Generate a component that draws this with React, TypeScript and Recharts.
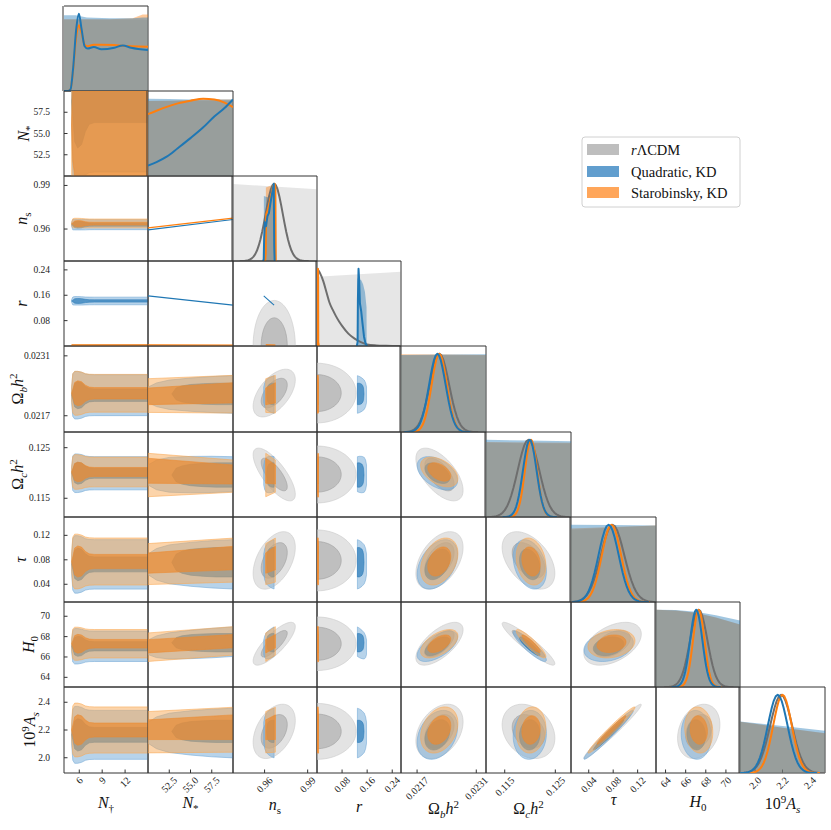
import React from 'react';
import { ComposedChart, Scatter, XAxis, YAxis } from 'recharts';

const SERIF = "'Liberation Serif', 'DejaVu Serif', serif";

// panel grid in page pixels
const colEdges = [64, 148, 233, 317, 401, 486, 571, 656, 740, 825];
const rowEdges = [6, 91, 176, 261, 346, 432, 517, 602, 687, 773];

const paramKeys = ['Ndag', 'Nstar', 'ns', 'r', 'ombh2', 'omch2', 'tau', 'H0', 'As'];
const paramMin = [4, 50, 0.938, 0, 0.02132, 0.1113, 0.011, 63.05, 1.89];
const paramMax = [15, 60, 0.9965, 0.268, 0.02333, 0.1281, 0.15, 71.4, 2.51];
const tickVals = [
  [6, 9, 12], [52.5, 55, 57.5], [0.96, 0.99], [0.08, 0.16, 0.24], [0.0217, 0.0231],
  [0.115, 0.125], [0.04, 0.08, 0.12], [64, 66, 68, 70], [2.0, 2.2, 2.4],
];
const tickText = [
  ['6', '9', '12'], ['52.5', '55.0', '57.5'], ['0.96', '0.99'], ['0.08', '0.16', '0.24'], ['0.0217', '0.0231'],
  ['0.115', '0.125'], ['0.04', '0.08', '0.12'], ['64', '66', '68', '70'], ['2.0', '2.2', '2.4'],
];

// means / sigmas
const greyMean = [null, null, 0.9667, 0, 0.02223, 0.1197, 0.079, 67.3, 2.19];
const greySigma = [null, null, 0.006, 0.051, 0.000228, 0.00213, 0.0192, 0.86, 0.08];
// extra spread of the r-panels (partner index); for n_s it stretches r itself
const greyRWiden = [1, 1, 1.15, 1, 1.25, 1.08, 1.06, 1.25, 1.03];
const quadMean = [null, 58.8, 0.963, 0.142, 0.02218, 0.11995, 0.0725, 67.05, 2.165];
const quadSigma = [null, 3.4, 0.0014, 0.0049, 0.000195, 0.00134, 0.0165, 0.61, 0.072];
const staroMean = [null, 56, 0.9637, 0.0031, 0.022225, 0.1202, 0.0772, 67.3, 2.2];
const staroSigma = [null, 8.5, 0.0013, 0.0002, 0.00018, 0.0012, 0.0157, 0.57, 0.068];

const greyCorr = [
  ['ns', 'ombh2', 0.55], ['ns', 'omch2', -0.75], ['ns', 'tau', 0.45], ['ns', 'H0', 0.8], ['ns', 'As', 0.4],
  ['ombh2', 'omch2', -0.6], ['ombh2', 'tau', 0.45], ['ombh2', 'H0', 0.65], ['ombh2', 'As', 0.35],
  ['omch2', 'tau', -0.45], ['omch2', 'H0', -0.93], ['omch2', 'As', -0.25],
  ['tau', 'H0', 0.45], ['tau', 'As', 0.98], ['H0', 'As', 0.25],
];
const quadCorr = [
  ['ombh2', 'omch2', -0.45], ['ombh2', 'tau', 0.4], ['ombh2', 'H0', 0.6], ['ombh2', 'As', 0.3],
  ['omch2', 'tau', -0.3], ['omch2', 'H0', -0.9], ['omch2', 'As', 0.05],
  ['tau', 'H0', 0.25], ['tau', 'As', 0.98], ['H0', 'As', -0.05],
];
const staroCorr = [
  ['ombh2', 'omch2', -0.45], ['ombh2', 'tau', 0.35], ['ombh2', 'H0', 0.55], ['ombh2', 'As', 0.3],
  ['omch2', 'tau', -0.2], ['omch2', 'H0', -0.9], ['omch2', 'As', 0.1],
  ['tau', 'H0', 0.2], ['tau', 'As', 0.98], ['H0', 'As', -0.1],
];

// n_s and r follow N_* along a line for the two KD models (values at N_* = 50, 60)
const nstarEnds = [50, 60];
const quadNsEnds = [0.9594, 0.9666];
const staroNsEnds = [0.9608, 0.9675];
const quadREnds = [0.158, 0.129];
const staroREnds = [0.0035, 0.0028];

// contour bands in the N_* panels: [value at N_*=50, value at N_*=60]
const staroOuterMid = [null, null, null, null, [0.022172, 0.022203], [0.1196, 0.11938], [0.073, 0.0795], [66.96, 67.58], [2.184, 2.202]];
const staroOuterHalf = [null, null, null, null, [0.000394, 0.000441], [0.00429, 0.00319], [0.0335, 0.036], [1.4, 1.4], [0.149, 0.162]];
const staroInnerMid = [null, null, null, null, [0.022153, 0.022236], [0.12044, 0.1197], [0.0746, 0.0828], [67.05, 67.55], [2.202, 2.22]];
const staroInnerHalf = [null, null, null, null, [0.000194, 0.000236], [0.00247, 0.00188], [0.0165, 0.0192], [0.65, 0.65], [0.071, 0.089]];
const quadOuterMid = [null, null, null, null, [0.022189, 0.022197], [0.1196, 0.11976], [0.0726, 0.0726], [66.95, 67.5], [2.18, 2.178]];
const quadOuterHalf = [null, null, null, null, [0.000361, 0.00044], [0.00395, 0.00346], [0.0337, 0.0403], [1.42, 1.45], [0.15, 0.179]];
const quadInnerMid = [null, null, null, null, [0.02221, 0.02221], [0.1196, 0.1196], [0.076, 0.076], [67.4, 67.4], [2.19, 2.19]];
const quadInnerHalf = [null, null, null, null, [0.00025, 0.00025], [0.0024, 0.0024], [0.024, 0.024], [0.9, 0.9], [0.08, 0.08]];
const quadOuterNstar = [50, 51, 52.5, 55, 57.5, 60];
const quadOuterTaper = [0.5, 0.75, 0.9, 0.97, 1, 1];
const quadInnerNstar = [52.8, 53.3, 54, 55, 56.5, 58, 60];
const quadInnerTaper = [0, 0.55, 0.75, 0.88, 0.96, 1, 1];
const staroBandNstar = [50, 60];
const staroBandTaper = [1, 1];

// N_dagger panels: contour half-widths in units of the other parameter's sigma
const ndagGrid = [5.0, 5.15, 5.4, 5.8, 6.3, 6.8, 7.3, 8.0, 16];
const ndagOuterMult = [0.9, 2.55, 2.85, 2.85, 2.75, 2.55, 2.47, 2.45, 2.45];
const ndagInnerMult = [0, 0.5, 1.4, 1.62, 1.5, 1.05, 0.8, 0.74, 0.74];

// diagonal: shaded areas
const diagFillX = [
  [4, 5.5, 7, 10, 13, 14.3, 15], [50, 52.5, 55, 57.5, 60], [0.938, 0.9965], [0, 0.268],
  [0.02132, 0.02232, 0.02333], [0.1113, 0.1197, 0.1281], [0.011, 0.08, 0.15], [63.05, 65, 67, 69, 71.4], [1.89, 2.2, 2.51],
];
const greyFillH = [
  [0.925, 0.925, 0.925, 0.925, 0.925, 0.925, 0.92], [0.975, 0.975, 0.975, 0.975, 0.975], [0.996, 0.927], [0.897, 0.962],
  [0.983, 0.983, 0.983], [0.96, 0.955, 0.95], [0.936, 0.965, 0.99], [1.0, 0.99, 0.96, 0.9, 0.81], [0.657, 0.58, 0.507],
];
const nsQuadFillX = [0.9594, 0.9595, 0.963, 0.9665, 0.9666];
const nsQuadFillH = [0, 0.84, 0.82, 0.86, 0];
const nsStaroFillX = [0.9608, 0.9609, 0.9675, 0.9676];
const nsStaroFillH = [0, 0.95, 1.0, 0];
const rQuadFillX = [0.1285, 0.129, 0.134, 0.14, 0.147, 0.153, 0.158, 0.1585];
const rQuadFillH = [0, 0.88, 0.84, 0.86, 0.8, 0.7, 0.5, 0];
const rStaroFillX = [0.0026, 0.0028, 0.0035, 0.0037];
const rStaroFillH = [0, 1.0, 1.0, 0];
const quadFillH = [
  [0.98, 0.98, 0.95, 0.94, 0.94, 0.95, 0.95], [1.0, 0.995, 0.99, 0.99, 0.99], nsQuadFillH, rQuadFillH,
  [0.985, 0.99, 0.996], [1.0, 0.99, 0.98], [1.0, 0.995, 0.99], [1.0, 0.995, 0.975, 0.93, 0.86], [0.66, 0.6, 0.54],
];
const staroFillH = [
  [0.93, 0.93, 0.93, 0.93, 0.94, 0.99, 0.99], [0.97, 0.975, 0.985, 0.99, 0.99], nsStaroFillH, rStaroFillH,
  [0.996, 0.99, 0.985], [0.97, 0.965, 0.96], [0.95, 0.97, 0.99], [1.0, 0.99, 0.96, 0.9, 0.81], [0.657, 0.58, 0.507],
];

// diagonal: marginal curves that are not simple Gaussians
const ndagLineX = [4, 4.5, 4.85, 5.2, 5.6, 5.95, 6.3, 6.7, 7.1, 7.9, 8.9, 10.6, 11.7, 12.8, 15];
const quadNdagLine = [0, 0, 0.02, 0.3, 0.8, 1.0, 0.8, 0.58, 0.55, 0.57, 0.54, 0.56, 0.59, 0.56, 0.53];
const staroNdagLine = [0, 0, 0.02, 0.28, 0.7, 0.85, 0.75, 0.6, 0.58, 0.6, 0.6, 0.595, 0.585, 0.58, 0.574];
const nstarLineX = [50, 51, 52.2, 53.5, 55, 56.5, 57.8, 59, 60];
const quadNstarLine = [0.134, 0.18, 0.25, 0.36, 0.49, 0.63, 0.77, 0.88, 0.99];
const staroNstarLine = [0.8, 0.845, 0.895, 0.94, 0.975, 1.0, 0.99, 0.95, 0.89];
const nsQuadLineX = [0.9588, 0.9594, 0.9597, 0.9602, 0.961, 0.962, 0.963, 0.964, 0.965, 0.9658, 0.9664, 0.9667, 0.967];
const nsQuadLine = [0, 0.02, 0.3, 0.5, 0.45, 0.58, 0.62, 0.74, 0.85, 0.93, 1.0, 0.2, 0];
const nsStaroLineX = [0.9604, 0.9608, 0.9611, 0.962, 0.963, 0.964, 0.965, 0.966, 0.967, 0.9675, 0.9678];
const nsStaroLine = [0, 0.1, 0.6, 0.65, 0.72, 0.8, 0.88, 0.97, 1.0, 0.95, 0];
const rGreyLineX = [0, 0.01, 0.02, 0.03, 0.04, 0.05, 0.06, 0.07, 0.08, 0.1, 0.12, 0.14, 0.16, 0.19, 0.22, 0.268];
const rGreyLine = [1.0, 0.94, 0.84, 0.7, 0.56, 0.47, 0.39, 0.32, 0.26, 0.16, 0.095, 0.05, 0.02, 0.008, 0.003, 0];
const rQuadLineX = [0.127, 0.1295, 0.1305, 0.1325, 0.1345, 0.137, 0.141, 0.145, 0.15, 0.155, 0.16];
const rQuadLine = [0, 0.05, 0.6, 1.0, 0.85, 0.55, 0.45, 0.3, 0.12, 0.03, 0];
const rStaroLineX = [0, 0.0025, 0.003, 0.0035, 0.004, 0.006];
const rStaroLine = [0, 0.02, 1.0, 0.95, 0.05, 0];

const legendNames = ['ΛCDM', 'Quadratic, KD', 'Starobinsky, KD'];

type Pt = { x: number; y: number };
type Shape = {
  pts: Pt[];
  fill?: string;
  fillOpacity?: number;
  stroke?: string;
  strokeWidth?: number;
  strokeOpacity?: number;
  curve?: string;
};

const K_IN = 1.515;
const K_OUT = 2.448;

const GREY = { outer: '#c8c8c8', inner: '#9c9c9c', innerOp: 0.5, line: '#6e6e6e', dfill: '#808080', dOp: 0.2 };
const QUAD = { outer: '#6fa7d5', inner: '#2a7ab8', innerOp: 0.7, line: '#1f77b4', dfill: '#1f77b4', dOp: 0.42 };
const STARO = { outer: '#f9a955', inner: '#eb8a31', innerOp: 0.7, line: '#ff7f0e', dfill: '#ff7f0e', dOp: 0.42 };

const quadModel = {
  style: QUAD, mean: quadMean, sigma: quadSigma, corr: quadCorr, nsEnds: quadNsEnds, rEnds: quadREnds,
  outerMid: quadOuterMid, outerHalf: quadOuterHalf, outerGrid: quadOuterNstar, outerTaper: quadOuterTaper,
  innerMid: quadInnerMid, innerHalf: quadInnerHalf, innerGrid: quadInnerNstar, innerTaper: quadInnerTaper,
  fillX: [diagFillX[0], diagFillX[1], nsQuadFillX, rQuadFillX, diagFillX[4], diagFillX[5], diagFillX[6], diagFillX[7], diagFillX[8]],
  fillH: quadFillH,
  lineX: [ndagLineX, nstarLineX, nsQuadLineX, rQuadLineX],
  lineY: [quadNdagLine, quadNstarLine, nsQuadLine, rQuadLine],
};
const staroModel = {
  style: STARO, mean: staroMean, sigma: staroSigma, corr: staroCorr, nsEnds: staroNsEnds, rEnds: staroREnds,
  outerMid: staroOuterMid, outerHalf: staroOuterHalf, outerGrid: staroBandNstar, outerTaper: staroBandTaper,
  innerMid: staroInnerMid, innerHalf: staroInnerHalf, innerGrid: staroBandNstar, innerTaper: staroBandTaper,
  fillX: [diagFillX[0], diagFillX[1], nsStaroFillX, rStaroFillX, diagFillX[4], diagFillX[5], diagFillX[6], diagFillX[7], diagFillX[8]],
  fillH: staroFillH,
  lineX: [ndagLineX, nstarLineX, nsStaroLineX, rStaroLineX],
  lineY: [staroNdagLine, staroNstarLine, nsStaroLine, rStaroLine],
};
const models = [quadModel, staroModel];

function corrOf(list: any[], a: string, b: string) {
  for (const [p, q, v] of list) if ((p === a && q === b) || (p === b && q === a)) return v;
  return 0;
}

function ellipsePts(mx: number, my: number, sx: number, sy: number, rho: number, k: number): Pt[] {
  const pts: Pt[] = [];
  const c = Math.sqrt(Math.max(0, 1 - rho * rho));
  const steps = 72;
  for (let i = 0; i <= steps; i++) {
    const t = (2 * Math.PI * i) / steps;
    const u = Math.cos(t);
    const v = Math.sin(t);
    pts.push({ x: mx + k * sx * u, y: my + k * sy * (rho * u + c * v) });
  }
  return pts;
}

function fromNstar(m: any, i: number, n: number) {
  if (i === 1) return n;
  const ends = i === 2 ? m.nsEnds : m.rEnds;
  return ends[0] + ((ends[1] - ends[0]) * (n - 50)) / 10;
}

function boundsOf(m: any, i: number) {
  if (i === 1) return [50, 60];
  if (i === 2) return [Math.min(...m.nsEnds), Math.max(...m.nsEnds)];
  if (i === 3) return [Math.min(...m.rEnds), Math.max(...m.rEnds)];
  return [-Infinity, Infinity];
}

function nstarBand(m: any, ix: number, iy: number, inner: boolean): Pt[] {
  const grid = inner ? m.innerGrid : m.outerGrid;
  const taper = inner ? m.innerTaper : m.outerTaper;
  const mid = (inner ? m.innerMid : m.outerMid)[iy];
  const half = (inner ? m.innerHalf : m.outerHalf)[iy];
  const at = (pair: number[], n: number) => pair[0] + ((pair[1] - pair[0]) * (n - 50)) / 10;
  const up = grid.map((n: number, k: number) => ({ x: fromNstar(m, ix, n), y: at(mid, n) + at(half, n) * taper[k] }));
  const dn = grid.map((n: number, k: number) => ({ x: fromNstar(m, ix, n), y: at(mid, n) - at(half, n) * taper[k] })).reverse();
  return [...up, ...dn, up[0]];
}

function ndagBand(m: any, iy: number, inner: boolean): Pt[] {
  const mult = inner ? ndagInnerMult : ndagOuterMult;
  const c = m.mean[iy];
  const s = m.sigma[iy];
  const [lo, hi] = boundsOf(m, iy);
  const clamp = (v: number) => Math.min(hi, Math.max(lo, v));
  const up = ndagGrid.map((x, k) => ({ x, y: clamp(c + mult[k] * s) }));
  const dn = ndagGrid.map((x, k) => ({ x, y: clamp(c - mult[k] * s) })).reverse();
  return [...up, ...dn, up[0]];
}

function contourFill(pts: Pt[], style: any, inner: boolean, thin = false): Shape {
  const color = inner ? style.inner : style.outer;
  return {
    pts,
    fill: color,
    fillOpacity: inner ? style.innerOp : 0.5,
    stroke: thin ? style.line : color,
    strokeOpacity: thin ? 0.9 : 0.7,
    strokeWidth: thin ? 1.4 : 0.8,
  };
}

function gaussPts(mu: number, s: number, lo: number, hi: number): Pt[] {
  const pts: Pt[] = [];
  for (let k = -20; k <= 20; k++) {
    const t = k * 0.2;
    const x = mu + t * s;
    if (x < lo || x > hi) continue;
    pts.push({ x, y: Math.exp(-0.5 * t * t) });
  }
  return pts;
}

function pairShapes(ix: number, iy: number): Shape[] {
  const out: Shape[] = [];
  if (ix >= 2) {
    [false, true].forEach((inner) => {
      let sy = greySigma[iy] as number;
      if (ix === 3) sy *= greyRWiden[iy];
      if (iy === 3) sy *= greyRWiden[ix];
      let pts = ellipsePts(greyMean[ix] as number, greyMean[iy] as number, greySigma[ix] as number, sy,
        corrOf(greyCorr, paramKeys[ix], paramKeys[iy]), inner ? K_IN : K_OUT);
      if (ix === 3) pts = pts.map((p) => ({ x: Math.max(0, p.x), y: p.y }));
      if (iy === 3) pts = pts.map((p) => ({ x: p.x, y: Math.max(0, p.y) }));
      out.push(contourFill(pts, GREY, inner));
    });
  }
  models.forEach((m) => {
    if (ix === 0) {
      const thin = iy === 3 && m === staroModel;
      [false, true].forEach((inner) => out.push(contourFill(ndagBand(m, iy, inner), m.style, inner, thin && !inner)));
    } else if (iy <= 3) {
      const pts = nstarEnds.map((n) => ({ x: fromNstar(m, ix, n), y: fromNstar(m, iy, n) }));
      out.push({ pts, stroke: m.style.line, strokeWidth: 1.1 });
    } else if (ix <= 3) {
      const thin = ix === 3 && m === staroModel;
      [false, true].forEach((inner) => out.push(contourFill(nstarBand(m, ix, iy, inner), m.style, inner, thin && !inner)));
    } else {
      [false, true].forEach((inner) => {
        const pts = ellipsePts(m.mean[ix] as number, m.mean[iy] as number, m.sigma[ix] as number, m.sigma[iy] as number,
          corrOf(m.corr, paramKeys[ix], paramKeys[iy]), inner ? K_IN : K_OUT);
        out.push(contourFill(pts, m.style, inner));
      });
    }
  });
  return out;
}

function fillPoly(xs: number[], hs: number[]): Pt[] {
  return [{ x: xs[0], y: 0 }, ...xs.map((x, k) => ({ x, y: hs[k] })), { x: xs[xs.length - 1], y: 0 }];
}

function diagShapes(i: number): Shape[] {
  const out: Shape[] = [];
  out.push({ pts: fillPoly(diagFillX[i], greyFillH[i]), fill: GREY.dfill, fillOpacity: GREY.dOp });
  [staroModel, quadModel].forEach((m) =>
    out.push({ pts: fillPoly(m.fillX[i], m.fillH[i]), fill: m.style.dfill, fillOpacity: m.style.dOp }));
  if (i === 3) {
    out.push({ pts: rGreyLineX.map((x, k) => ({ x, y: rGreyLine[k] })), stroke: GREY.line, strokeWidth: 2, curve: 'monotoneX' });
  } else if (i >= 2) {
    out.push({ pts: gaussPts(greyMean[i] as number, greySigma[i] as number, paramMin[i], paramMax[i]), stroke: GREY.line, strokeWidth: 2 });
  }
  [staroModel, quadModel].forEach((m) => {
    if (i <= 3) {
      const xs = m.lineX[i];
      const ys = m.lineY[i];
      out.push({ pts: xs.map((x, k) => ({ x, y: ys[k] })), stroke: m.style.line, strokeWidth: 2, curve: i <= 1 ? 'monotoneX' : 'linear' });
    } else {
      out.push({ pts: gaussPts(m.mean[i] as number, m.sigma[i] as number, paramMin[i], paramMax[i]), stroke: m.style.line, strokeWidth: 2 });
    }
  });
  return out;
}

const noShape = () => <g />;

function renderShape(s: Shape, key: number) {
  return (
    <Scatter
      key={key}
      data={s.pts}
      xAxisId="b"
      yAxisId="l"
      isAnimationActive={false}
      shape={noShape}
      legendType="none"
      lineJointType={(s.curve as any) || 'linear'}
      line={{
        fill: s.fill || 'none',
        fillOpacity: s.fillOpacity ?? 1,
        stroke: s.stroke || 'none',
        strokeWidth: s.strokeWidth ?? 0,
        strokeOpacity: s.strokeOpacity ?? 1,
        strokeLinejoin: 'round',
      }}
    />
  );
}

function labelFor(i: number, v: number) {
  const k = tickVals[i].indexOf(v);
  return k >= 0 ? tickText[i][k] : String(v);
}

const X_TICK_FONT = 10;
const Y_TICK_FONT = 9.5;
function textWidth(s: string, size: number) {
  let w = 0;
  for (const ch of s) w += ch === '.' ? 0.25 : 0.5;
  return w * size;
}

function BottomTick(props: any) {
  const { x, y, payload, col } = props;
  const label = labelFor(col, payload.value);
  const w = textWidth(label, X_TICK_FONT);
  const cy = y + 3 + (w + 7) * 0.3536;
  return (
    <text x={x} y={cy} textAnchor="middle" dominantBaseline="central" transform={`rotate(-45 ${x} ${cy})`}
      fontSize={X_TICK_FONT} fontFamily={SERIF} fill="#222">
      {label}
    </text>
  );
}

function LeftTick(props: any) {
  const { x, y, payload, row } = props;
  return (
    <text x={x - 14} y={y} textAnchor="end" dominantBaseline="central" fontSize={Y_TICK_FONT} fontFamily={SERIF} fill="#222">
      {labelFor(row, payload.value)}
    </text>
  );
}

const AX = '#333333';

function Panel({ col, row }: { col: number; row: number }) {
  const w = colEdges[col + 1] - colEdges[col];
  const h = rowEdges[row + 1] - rowEdges[row];
  const diag = col === row;
  const shapes = diag ? diagShapes(col) : pairShapes(col, row);
  const showX = row === 8;
  const showY = col === 0 && !diag;
  const noRowTicks = row === 0;
  const rowTicks = noRowTicks ? [paramMin[0]] : tickVals[row];
  const common = {
    allowDataOverflow: true,
    interval: 0 as any,
    tickSize: -3.5,
    tickMargin: 3.5,
    axisLine: { stroke: AX, strokeWidth: 1 },
    tickLine: { stroke: AX, strokeWidth: 1 },
  };
  const rowTickLine = noRowTicks ? false : common.tickLine;
  return (
    <div style={{ position: 'absolute', left: colEdges[col], top: rowEdges[row] }}>
      <ComposedChart width={w} height={h} margin={{ top: -1, right: -1, bottom: -1, left: -1 }}>
        {shapes.map((s, k) => renderShape(s, k))}
        <XAxis xAxisId="b" type="number" dataKey="x" orientation="bottom" height={1}
          domain={[paramMin[col], paramMax[col]]} ticks={tickVals[col]} {...common}
          tick={showX ? (p: any) => <BottomTick {...p} col={col} /> : false} />
        <XAxis xAxisId="t" type="number" dataKey="x" orientation="top" height={1}
          domain={[paramMin[col], paramMax[col]]} ticks={tickVals[col]} {...common} tick={false} />
        <YAxis yAxisId="l" type="number" dataKey="y" orientation="left" width={1} hide={diag}
          domain={diag ? [0, 1.1] : [paramMin[row], paramMax[row]]} ticks={rowTicks} {...common}
          tick={showY ? (p: any) => <LeftTick {...p} row={row} /> : false} />
        {diag && (
          <YAxis yAxisId="pl" type="number" dataKey="y" orientation="left" width={1}
            domain={[paramMin[row], paramMax[row]]} ticks={rowTicks} {...common} tickLine={rowTickLine} tick={false} />
        )}
        <YAxis yAxisId="pr" type="number" dataKey="y" orientation="right" width={1}
          domain={[paramMin[row], paramMax[row]]} ticks={rowTicks} {...common} tickLine={rowTickLine} tick={false} />
      </ComposedChart>
    </div>
  );
}

// math labels: [text, kind]  kind: i = italic, r = roman, sub / subi / sup
const labelParts: [string, string][][] = [
  [['N', 'i'], ['†', 'sub']],
  [['N', 'i'], ['*', 'sub']],
  [['n', 'i'], ['s', 'sub']],
  [['r', 'i']],
  [['Ω', 'r'], ['b', 'subi'], ['h', 'i'], ['2', 'sup']],
  [['Ω', 'r'], ['c', 'subi'], ['h', 'i'], ['2', 'sup']],
  [['τ', 'i']],
  [['H', 'i'], ['0', 'sub']],
  [['10', 'r'], ['9', 'sup'], ['A', 'i'], ['s', 'subi']],
];
const bottomLabelY = [808, 808, 810, 812, 814, 814, 805, 807, 809];
const leftLabelX = [0, 29, 27, 27, 23, 23, 26, 34, 35];

function MathTspans({ parts }: { parts: [string, string][] }) {
  let cur = 0;
  return (
    <>
      {parts.map(([t, kind], k) => {
        const target = kind.startsWith('sub') ? 4 : kind === 'sup' ? -6.5 : 0;
        const dy = target - cur;
        cur = target;
        const small = kind.startsWith('sub') || kind === 'sup';
        const italic = kind === 'i' || kind === 'subi';
        return (
          <tspan key={k} dy={dy} fontSize={small ? 11 : 16} fontStyle={italic ? 'italic' : 'normal'}>
            {t}
          </tspan>
        );
      })}
    </>
  );
}

const legendColors = ['#bebebe', '#619ece', '#ffa65a'];
const legendRowY = [144, 166, 187];

export default function App() {
  const cells = [];
  for (let row = 0; row < 9; row++) {
    for (let col = 0; col <= row; col++) cells.push(<Panel key={`${col}-${row}`} col={col} row={row} />);
  }
  const colCenter = (i: number) => (colEdges[i] + colEdges[i + 1]) / 2;
  const rowCenter = (i: number) => (rowEdges[i] + rowEdges[i + 1]) / 2;
  return (
    <div style={{ position: 'relative', width: 831, height: 830, background: '#fff', fontFamily: SERIF }}>
      <style>{'body{margin:0} .recharts-surface{overflow:visible}'}</style>
      {cells}
      <svg width={831} height={830} style={{ position: 'absolute', left: 0, top: 0, pointerEvents: 'none' }}>
        {labelParts.map((parts, i) => (
          <text key={`b${i}`} x={colCenter(i)} y={bottomLabelY[i]} textAnchor="middle" fontFamily={SERIF} fill="#111">
            <MathTspans parts={parts} />
          </text>
        ))}
        {labelParts.map((parts, i) =>
          i === 0 ? null : (
            <text key={`l${i}`} x={leftLabelX[i]} y={rowCenter(i)} textAnchor="middle" fontFamily={SERIF} fill="#111"
              transform={`rotate(-90 ${leftLabelX[i]} ${rowCenter(i)})`}>
              <MathTspans parts={parts} />
            </text>
          ))}
        <rect x={582} y={137} width={158} height={70} rx={3} fill="#fff" fillOpacity={0.8} stroke="#d0d0d0" />
        {legendNames.map((name, k) => (
          <g key={name}>
            <rect x={587} y={legendRowY[k]} width={32} height={11} fill={legendColors[k]} />
            <text x={631} y={legendRowY[k] + 11} fontSize={14.5} fontFamily={SERIF} fill="#111">
              {k === 0 ? <tspan fontStyle="italic">r</tspan> : null}
              {name}
            </text>
          </g>
        ))}
      </svg>
    </div>
  );
}
